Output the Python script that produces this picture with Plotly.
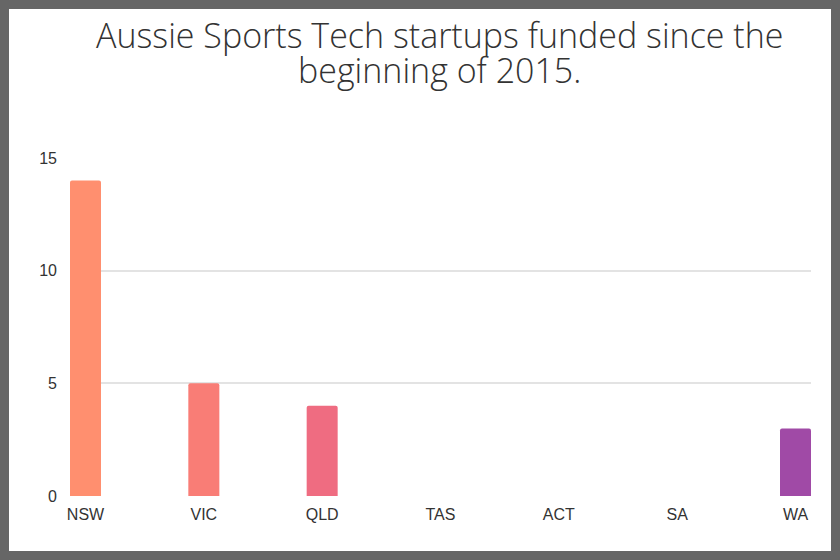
import plotly.graph_objects as go

# data
states = ["NSW", "VIC", "QLD", "TAS", "ACT", "SA", "WA"]
startups = [14, 5, 4, 0, 0, 0, 3]
bar_colors = ["#FF8F6F", "#F97D76", "#EF6C81", "#E05A8E", "#C9539A", "#B44FA2", "#A04AA6"]
y_ticks = [0, 5, 10, 15]
title_lines = ["Aussie Sports Tech startups funded since the", "beginning of 2015."]

W, H = 840, 560
ML, MR, MT, MB = 70, 29, 158, 64
pw = W - ML - MR
ph = H - MT - MB


# pixel (from top-left of the picture) -> paper coords
def px_x(p):
    return (p - ML) / pw


def px_y(p):
    return (H - MB - p) / ph


fig = go.Figure()
fig.add_trace(go.Bar(
    x=states,
    y=startups,
    width=0.262,
    marker=dict(color=bar_colors, cornerradius=2, line=dict(width=0)),
    hoverinfo="x+y",
))

# grey picture frame
fig.add_shape(
    type="rect", xref="paper", yref="paper",
    x0=px_x(4.5), x1=px_x(W - 4.5), y0=px_y(H - 4.5), y1=px_y(4.5),
    line=dict(color="#666666", width=9), fillcolor="rgba(0,0,0,0)", layer="above",
)

# title, one annotation per line so the line spacing can be kept tight
for line, y_mid in zip(title_lines, [35, 70]):
    fig.add_annotation(
        text=line, x=px_x(439), y=px_y(y_mid),
        xref="paper", yref="paper", xanchor="center", yanchor="middle",
        showarrow=False,
        font=dict(family="Open Sans", size=34, color="#333333", weight=300),
    )

fig.update_layout(
    width=W, height=H,
    margin=dict(l=ML, r=MR, t=MT, b=MB),
    paper_bgcolor="white",
    plot_bgcolor="white",
    showlegend=False,
    font=dict(family="Liberation Sans, Arial", size=16, color="#333333"),
    xaxis=dict(
        type="category",
        range=[-0.131, 6.131],
        showgrid=False,
        showline=False,
        zeroline=False,
        ticks="",
        ticklabelstandoff=7,
        tickfont=dict(size=16, color="#333333"),
    ),
    yaxis=dict(
        range=[0, 15],
        tickvals=y_ticks,
        showgrid=True,
        gridcolor="#e3e3e3",
        gridwidth=1.5,
        zeroline=False,
        showline=False,
        ticks="",
        ticklabelstandoff=12,
        tickfont=dict(size=16, color="#333333"),
    ),
)

# drop the browser's default body margin so the frame sits at the page corner
fig.write_html(
    "out.html",
    config={"displayModeBar": False},
    post_script="document.body.style.margin='0';",
)
